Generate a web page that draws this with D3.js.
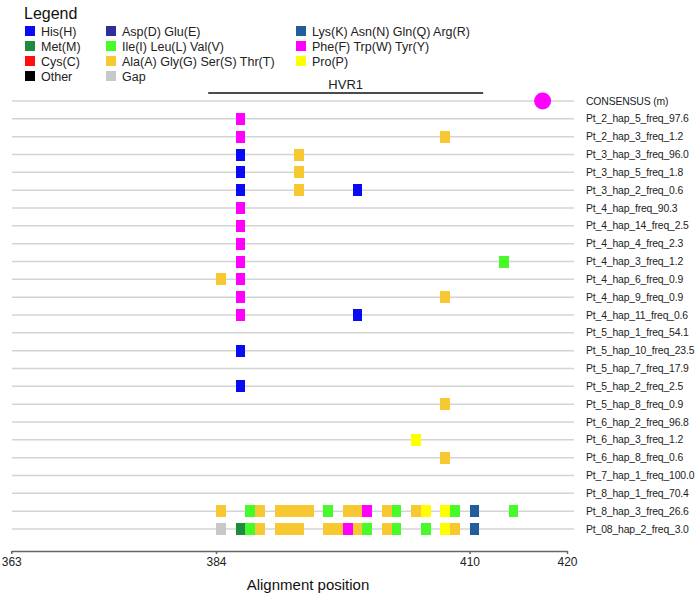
<!DOCTYPE html>
<html>
<head>
<meta charset="utf-8">
<script src="https://cdn.jsdelivr.net/npm/d3@7.9.0/dist/d3.min.js"></script>
<style>
  body { margin: 0; background: #fff; font-family: "Liberation Sans", Arial, sans-serif; }
  .grid line { stroke: #d4d4d4; stroke-width: 1.5; }
  .axis path, .axis line { stroke: #666; stroke-width: 1.5; }
  .axis text { font-size: 12px; fill: #222; font-family: "Liberation Sans", Arial, sans-serif; }
</style>
</head>
<body>
<svg id="chart" width="698" height="596"></svg>
<script>
// rows, top to bottom
const rows = [
  'CONSENSUS (m)',
  'Pt_2_hap_5_freq_97.6', 'Pt_2_hap_3_freq_1.2',
  'Pt_3_hap_3_freq_96.0', 'Pt_3_hap_5_freq_1.8', 'Pt_3_hap_2_freq_0.6',
  'Pt_4_hap_freq_90.3', 'Pt_4_hap_14_freq_2.5', 'Pt_4_hap_4_freq_2.3', 'Pt_4_hap_3_freq_1.2',
  'Pt_4_hap_6_freq_0.9', 'Pt_4_hap_9_freq_0.9', 'Pt_4_hap_11_freq_0.6',
  'Pt_5_hap_1_freq_54.1', 'Pt_5_hap_10_freq_23.5', 'Pt_5_hap_7_freq_17.9', 'Pt_5_hap_2_freq_2.5', 'Pt_5_hap_8_freq_0.9',
  'Pt_6_hap_2_freq_96.8', 'Pt_6_hap_3_freq_1.2', 'Pt_6_hap_8_freq_0.6',
  'Pt_7_hap_1_freq_100.0',
  'Pt_8_hap_1_freq_70.4', 'Pt_8_hap_3_freq_26.6', 'Pt_08_hap_2_freq_3.0'
];

// residue groups (legend order)
const groupCodes = ['H', 'DE', 'KNQR', 'M', 'ILV', 'FWY', 'C', 'AGST', 'P', 'X', 'GAP'];
const groupLabels = ['His(H)', 'Asp(D) Glu(E)', 'Lys(K) Asn(N) Gln(Q) Arg(R)',
  'Met(M)', 'Ile(I) Leu(L) Val(V)', 'Phe(F) Trp(W) Tyr(Y)',
  'Cys(C)', 'Ala(A) Gly(G) Ser(S) Thr(T)', 'Pro(P)',
  'Other', 'Gap'];
const groupColors = ['#0a0af5', '#2e2e9c', '#215f9c', '#1e8c3e', '#47fb2a', '#ff00ff',
  '#ff1010', '#f8c832', '#ffff00', '#000000', '#c8c8c8'];

const xTicks = [363, 384, 410, 420];
const consensusPos = 417;
const hvr1 = ['HVR1', 383.2, 411.4];

// [haplotype, alignment position, residue group]
const variants = [
  ['Pt_2_hap_5_freq_97.6', 386, 'FWY'],
  ['Pt_2_hap_3_freq_1.2', 386, 'FWY'], ['Pt_2_hap_3_freq_1.2', 407, 'AGST'],
  ['Pt_3_hap_3_freq_96.0', 386, 'H'], ['Pt_3_hap_3_freq_96.0', 392, 'AGST'],
  ['Pt_3_hap_5_freq_1.8', 386, 'H'], ['Pt_3_hap_5_freq_1.8', 392, 'AGST'],
  ['Pt_3_hap_2_freq_0.6', 386, 'H'], ['Pt_3_hap_2_freq_0.6', 392, 'AGST'], ['Pt_3_hap_2_freq_0.6', 398, 'H'],
  ['Pt_4_hap_freq_90.3', 386, 'FWY'],
  ['Pt_4_hap_14_freq_2.5', 386, 'FWY'],
  ['Pt_4_hap_4_freq_2.3', 386, 'FWY'],
  ['Pt_4_hap_3_freq_1.2', 386, 'FWY'], ['Pt_4_hap_3_freq_1.2', 413, 'ILV'],
  ['Pt_4_hap_6_freq_0.9', 384, 'AGST'], ['Pt_4_hap_6_freq_0.9', 386, 'FWY'],
  ['Pt_4_hap_9_freq_0.9', 386, 'FWY'], ['Pt_4_hap_9_freq_0.9', 407, 'AGST'],
  ['Pt_4_hap_11_freq_0.6', 386, 'FWY'], ['Pt_4_hap_11_freq_0.6', 398, 'H'],
  ['Pt_5_hap_10_freq_23.5', 386, 'H'],
  ['Pt_5_hap_2_freq_2.5', 386, 'H'],
  ['Pt_5_hap_8_freq_0.9', 407, 'AGST'],
  ['Pt_6_hap_3_freq_1.2', 404, 'P'],
  ['Pt_6_hap_8_freq_0.6', 407, 'AGST'],
  ['Pt_8_hap_3_freq_26.6', 384, 'AGST'], ['Pt_8_hap_3_freq_26.6', 387, 'ILV'],
  ['Pt_8_hap_3_freq_26.6', 388, 'AGST'], ['Pt_8_hap_3_freq_26.6', 390, 'AGST'],
  ['Pt_8_hap_3_freq_26.6', 391, 'AGST'], ['Pt_8_hap_3_freq_26.6', 392, 'AGST'],
  ['Pt_8_hap_3_freq_26.6', 393, 'AGST'], ['Pt_8_hap_3_freq_26.6', 395, 'ILV'],
  ['Pt_8_hap_3_freq_26.6', 397, 'AGST'], ['Pt_8_hap_3_freq_26.6', 398, 'AGST'],
  ['Pt_8_hap_3_freq_26.6', 399, 'FWY'], ['Pt_8_hap_3_freq_26.6', 401, 'AGST'],
  ['Pt_8_hap_3_freq_26.6', 402, 'ILV'], ['Pt_8_hap_3_freq_26.6', 404, 'AGST'],
  ['Pt_8_hap_3_freq_26.6', 405, 'P'], ['Pt_8_hap_3_freq_26.6', 407, 'P'],
  ['Pt_8_hap_3_freq_26.6', 408, 'ILV'], ['Pt_8_hap_3_freq_26.6', 410, 'KNQR'],
  ['Pt_8_hap_3_freq_26.6', 414, 'ILV'],
  ['Pt_08_hap_2_freq_3.0', 384, 'GAP'], ['Pt_08_hap_2_freq_3.0', 386, 'M'],
  ['Pt_08_hap_2_freq_3.0', 387, 'ILV'], ['Pt_08_hap_2_freq_3.0', 388, 'AGST'],
  ['Pt_08_hap_2_freq_3.0', 390, 'AGST'], ['Pt_08_hap_2_freq_3.0', 391, 'AGST'],
  ['Pt_08_hap_2_freq_3.0', 392, 'AGST'], ['Pt_08_hap_2_freq_3.0', 395, 'AGST'],
  ['Pt_08_hap_2_freq_3.0', 396, 'AGST'], ['Pt_08_hap_2_freq_3.0', 397, 'FWY'],
  ['Pt_08_hap_2_freq_3.0', 398, 'AGST'], ['Pt_08_hap_2_freq_3.0', 399, 'ILV'],
  ['Pt_08_hap_2_freq_3.0', 401, 'AGST'], ['Pt_08_hap_2_freq_3.0', 402, 'ILV'],
  ['Pt_08_hap_2_freq_3.0', 405, 'ILV'], ['Pt_08_hap_2_freq_3.0', 407, 'P'],
  ['Pt_08_hap_2_freq_3.0', 408, 'AGST'], ['Pt_08_hap_2_freq_3.0', 410, 'KNQR']
];

const svg = d3.select('#chart');

let x = d3.scaleLinear().domain([363, 420]).range([11.25, 567]);
let y = d3.scalePoint().domain(rows).range([101, 529]);
let color = d3.scaleOrdinal().domain(groupCodes).range(groupColors);
const unit = x(1) - x(0);

// legend
svg.append('text')
  .attr('x', 24).attr('y', 19)
  .attr('font-size', 16).attr('fill', '#111')
  .text('Legend');

const colX = [25, 106, 296];
let legend = svg.append('g');
groupLabels.forEach((label, i) => {
  const cx = colX[i % 3];
  const cy = 31 + Math.floor(i / 3) * 15;
  legend.append('rect')
    .attr('x', cx).attr('y', cy - 5)
    .attr('width', 10).attr('height', 10)
    .attr('fill', groupColors[i]);
  legend.append('text')
    .attr('x', cx + 16).attr('y', cy)
    .attr('dy', '0.36em')
    .attr('font-size', 12.5).attr('fill', '#222')
    .text(label);
});

// HVR1 region
svg.append('line')
  .attr('x1', x(hvr1[1])).attr('x2', x(hvr1[2]))
  .attr('y1', 93).attr('y2', 93)
  .attr('stroke', '#111').attr('stroke-width', 1.6);
svg.append('text')
  .attr('x', (x(hvr1[1]) + x(hvr1[2])) / 2).attr('y', 84)
  .attr('dy', '0.36em')
  .attr('text-anchor', 'middle')
  .attr('font-size', 13).attr('fill', '#222')
  .text(hvr1[0]);

// row lines
svg.append('g').attr('class', 'grid')
  .selectAll('line')
  .data(rows)
  .join('line')
  .attr('x1', 12).attr('x2', 574)
  .attr('y1', d => y(d)).attr('y2', d => y(d));

// row labels
svg.append('g')
  .selectAll('text')
  .data(rows)
  .join('text')
  .attr('x', 586).attr('y', d => y(d))
  .attr('dy', '0.35em')
  .attr('font-size', 10.4).attr('letter-spacing', -0.15).attr('fill', '#222')
  .text(d => d);

// consensus marker
svg.append('circle')
  .attr('cx', x(consensusPos) + unit / 2)
  .attr('cy', y(rows[0]))
  .attr('r', 8.5)
  .attr('fill', '#ff00ff');

// variant cells, snapped to whole pixels so neighbours join up
svg.append('g')
  .selectAll('rect')
  .data(variants)
  .join('rect')
  .attr('x', d => Math.round(x(d[1])))
  .attr('y', d => Math.round(y(d[0])) - 6)
  .attr('width', d => Math.round(x(d[1] + 1)) - Math.round(x(d[1])))
  .attr('height', 12)
  .attr('fill', d => color(d[2]));

// x axis
svg.append('g')
  .attr('class', 'axis')
  .attr('transform', 'translate(0,551)')
  .call(d3.axisBottom(x).tickValues(xTicks).tickFormat(d3.format('d')).tickSize(3).tickSizeOuter(0));

svg.append('text')
  .attr('x', 308).attr('y', 590)
  .attr('text-anchor', 'middle')
  .attr('font-size', 15).attr('fill', '#111')
  .text('Alignment position');
</script>
</body>
</html>
